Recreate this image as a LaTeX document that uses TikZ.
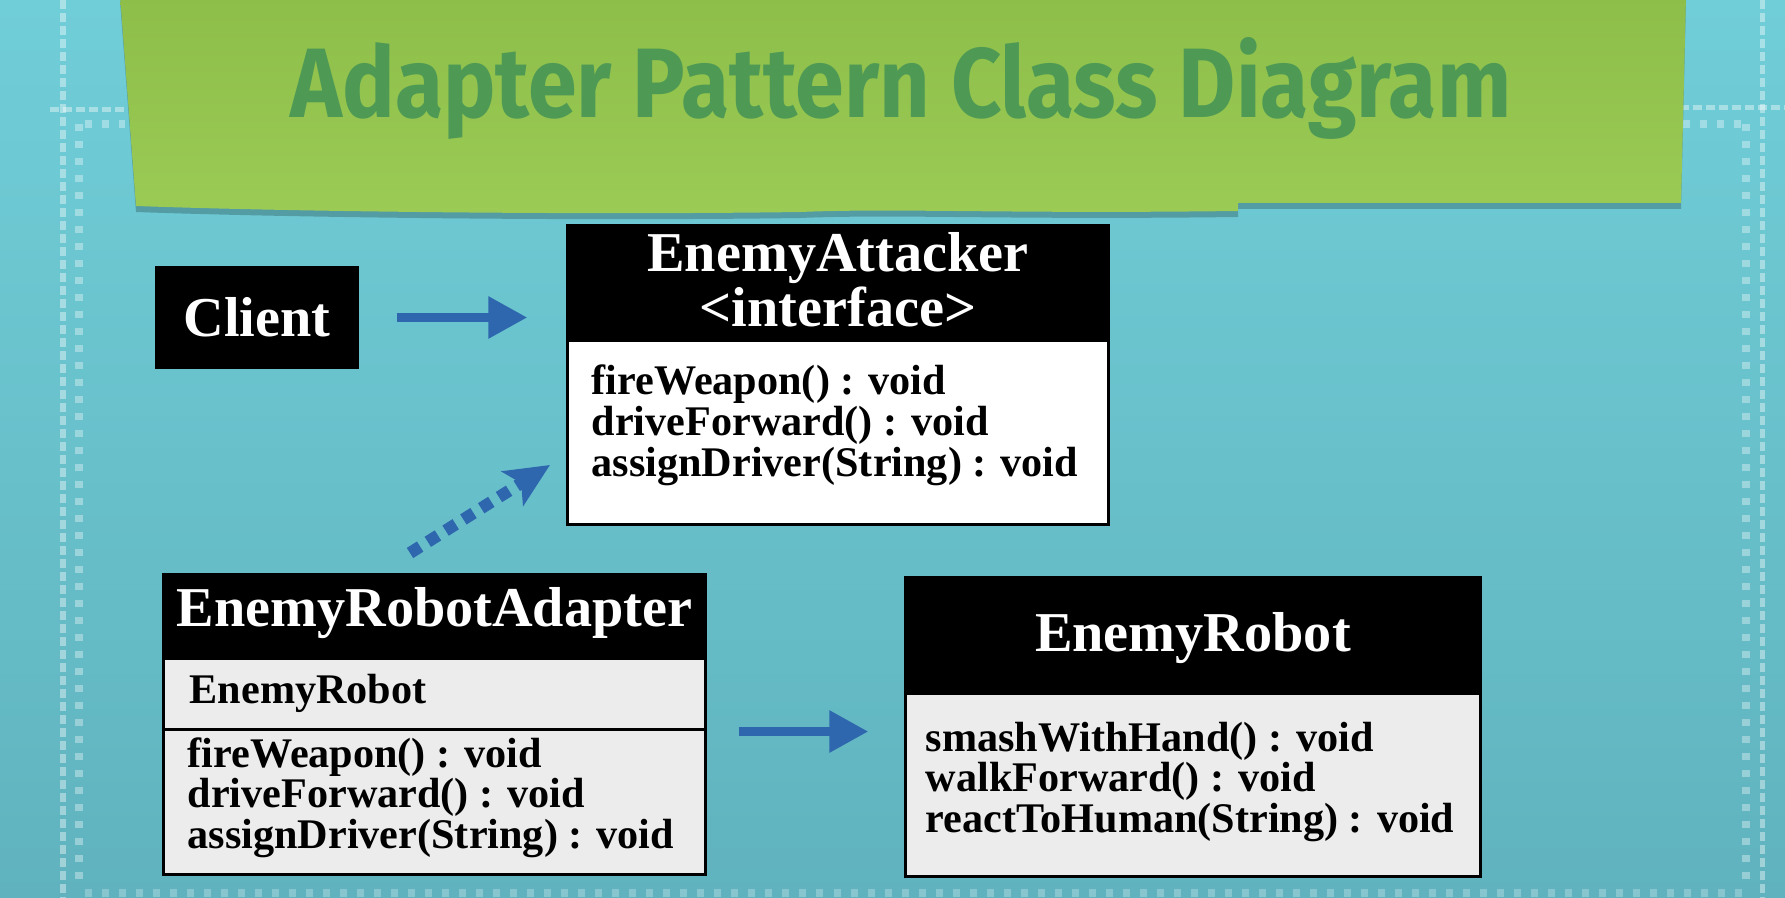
\documentclass[tikz,border=0pt]{standalone}
\usepackage{fontspec}
\setmainfont{Liberation Serif}
\newfontfamily\fuenteTitulo{Fira Sans}
\usetikzlibrary{arrows.meta}

\definecolor{fondoArriba}{HTML}{70CED8}
\definecolor{fondoAbajo}{HTML}{60B3BE}
\definecolor{verdeBanda}{HTML}{9BCB55}
\definecolor{verdeBandaSup}{HTML}{8DBE49}
\definecolor{verdeTitulo}{HTML}{4E9A55}
\definecolor{azulFlecha}{HTML}{2E67AE}
\definecolor{grisCaja}{HTML}{ECECEC}

\tikzset{
    cabecera/.style={fill=black, draw=black, line width=0.03cm, inner sep=0pt},
    cuerpo/.style={draw=black, line width=0.03cm, inner sep=0pt},
    nombre/.style={text=white, font=\fontsize{16}{19}\selectfont\bfseries,
        anchor=base, inner sep=0pt},
    metodo/.style={text=black, font=\fontsize{12}{14}\selectfont\bfseries,
        anchor=base west, inner sep=0pt},
    flecha/.style={draw=azulFlecha, line width=0.09cm,
        -{Triangle[length=0.39cm,width=0.40cm]}},
    punteada/.style={draw=azulFlecha, line width=0.12cm,
        dash pattern=on 0.12cm off 0.09cm,
        -{Stealth[length=0.44cm,width=0.40cm,inset=0.10cm]}},
    marco/.style={draw=white, opacity=0.4, line width=0.05cm,
        dash pattern=on 0.09cm off 0.04cm},
    marcas/.style={draw=white, opacity=0.35, line width=0.08cm,
        dash pattern=on 0.07cm off 0.10cm}
}

\begin{document}
\begin{tikzpicture}[x=0.01cm, y=-0.01cm]
        % Paso 1: Fondo turquesa y tamano fijo
        \useasboundingbox (0,0) rectangle (1785,898);
        \shade[top color=fondoArriba, bottom color=fondoAbajo]
            (0,0) rectangle (1785,898);

        % Paso 2: Marco blanco punteado del fondo
        \draw[marco] (63,0) -- (63,898);
        \draw[marco] (50,110) -- (125,110);
        \draw[marcas] (79,124) -- (79,888);
        \draw[marcas] (85,124) -- (125,124);
        \draw[marco] (1762,0) -- (1762,898);
        \draw[marco] (1680,108) -- (1785,108);
        \draw[marcas] (1746,124) -- (1746,888);
        \draw[marcas] (1683,124) -- (1746,124);
        \draw[marcas, opacity=0.25] (85,893) -- (1746,893);

        % Paso 3: Banda verde con su sombra
        \fill[black, opacity=0.22, yshift=-0.06cm]
            (120,-5) -- (1686,-5) -- (1681,203) -- (1238,203) -- (1238,211)
            .. controls (1000,214) and (900,208) .. (800,212)
            .. controls (600,215) and (300,212) .. (136,206) -- cycle;
        \shade[top color=verdeBandaSup, bottom color=verdeBanda]
            (120,-5) -- (1686,-5) -- (1681,203) -- (1238,203) -- (1238,211)
            .. controls (1000,214) and (900,208) .. (800,212)
            .. controls (600,215) and (300,212) .. (136,206) -- cycle;

        % Paso 4: Titulo
        \node[text=verdeTitulo, anchor=base, inner sep=0pt] (titulo) at (901,118)
            {\resizebox{12.2cm}{0.8cm}{\fuenteTitulo\bfseries Adapter Pattern Class Diagram}};

        % Paso 5: Cliente
        \node[cabecera, minimum width=2.00cm, minimum height=0.99cm,
            text=white, font=\fontsize{16}{19}\selectfont\bfseries]
            (cliente) at (257,317.5) {Client};

        % Paso 6: Interfaz EnemyAttacker
        \node[cabecera, minimum width=5.40cm, minimum height=1.15cm] (atCab) at (838,283.5) {};
        \node[cuerpo, fill=white, minimum width=5.40cm, minimum height=1.83cm] (atCue) at (838,432.5) {};
        \node[nombre] (atNombre) at (838,272) {EnemyAttacker};
        \node[nombre] (atInterfaz) at (838,327) {<interface>};
        \node[metodo] (atFire) at (591,395) {fireWeapon() : void};
        \node[metodo] (atDrive) at (591,436) {driveForward() : void};
        \node[metodo] (atAssign) at (591,477) {assignDriver(String) : void};

        % Paso 7: Clase EnemyRobotAdapter
        \node[cabecera, minimum width=5.41cm, minimum height=0.84cm] (adCab) at (434.5,617) {};
        \node[cuerpo, fill=grisCaja, minimum width=5.41cm, minimum height=0.71cm] (adAtr) at (434.5,694.5) {};
        \node[cuerpo, fill=grisCaja, minimum width=5.41cm, minimum height=1.44cm] (adCue) at (434.5,802) {};
        \node[nombre] (adNombre) at (434.5,627) {EnemyRobotAdapter};
        \node[metodo] (adRobot) at (189,704) {EnemyRobot};
        \node[metodo] (adFire) at (187,768) {fireWeapon() : void};
        \node[metodo] (adDrive) at (187,808) {driveForward() : void};
        \node[metodo] (adAssign) at (187,849) {assignDriver(String) : void};

        % Paso 8: Clase EnemyRobot
        \node[cabecera, minimum width=5.74cm, minimum height=1.16cm] (robCab) at (1193,636) {};
        \node[cuerpo, fill=grisCaja, minimum width=5.74cm, minimum height=1.82cm] (robCue) at (1193,785) {};
        \node[nombre] (robNombre) at (1193,652) {EnemyRobot};
        \node[metodo] (robSmash) at (925,752) {smashWithHand() : void};
        \node[metodo] (robWalk) at (925,792) {walkForward() : void};
        \node[metodo] (robReact) at (925,833) {reactToHuman(String) : void};

        % Paso 9: Flechas de asociacion
        \draw[flecha, shorten <=0.38cm, shorten >=0.39cm]
            (cliente.east) -- (cliente.east -| atCab.west);
        \draw[flecha, shorten <=0.32cm, shorten >=0.36cm]
            (adAtr.south east) -- (adAtr.south east -| robCab.west);

        % Paso 10: Flecha punteada de realizacion
        \coordinate (implDesde) at (410,553);
        \coordinate (implHasta) at (550,465);
        \draw[punteada] (implDesde) -- (implHasta);
    \end{tikzpicture}
\end{document}
